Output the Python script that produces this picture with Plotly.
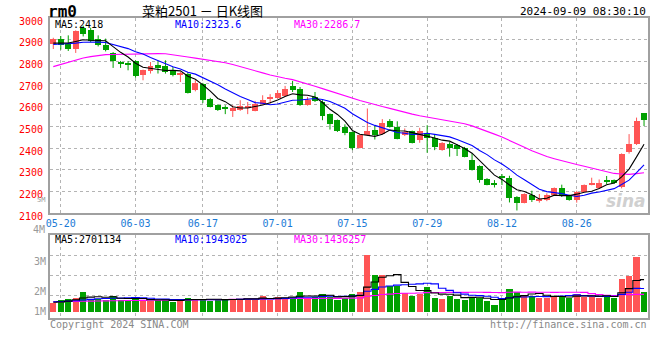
import plotly.graph_objects as go

# ---------------- data ----------------
dates = [
    "2024-05-17",
    "2024-05-20", "2024-05-21", "2024-05-22", "2024-05-23", "2024-05-24",
    "2024-05-27", "2024-05-28", "2024-05-29", "2024-05-30", "2024-05-31",
    "2024-06-03", "2024-06-04", "2024-06-05", "2024-06-06", "2024-06-07",
    "2024-06-11", "2024-06-12", "2024-06-13", "2024-06-14",
    "2024-06-17", "2024-06-18", "2024-06-19", "2024-06-20", "2024-06-21",
    "2024-06-24", "2024-06-25", "2024-06-26", "2024-06-27", "2024-06-28",
    "2024-07-01", "2024-07-02", "2024-07-03", "2024-07-04", "2024-07-05",
    "2024-07-08", "2024-07-09", "2024-07-10", "2024-07-11", "2024-07-12",
    "2024-07-15", "2024-07-16", "2024-07-17", "2024-07-18", "2024-07-19",
    "2024-07-22", "2024-07-23", "2024-07-24", "2024-07-25", "2024-07-26",
    "2024-07-29", "2024-07-30", "2024-07-31",
    "2024-08-01", "2024-08-02",
    "2024-08-05", "2024-08-06", "2024-08-07", "2024-08-08", "2024-08-09",
    "2024-08-12", "2024-08-13", "2024-08-14", "2024-08-15", "2024-08-16",
    "2024-08-19", "2024-08-20", "2024-08-21", "2024-08-22", "2024-08-23",
    "2024-08-26", "2024-08-27", "2024-08-28", "2024-08-29", "2024-08-30",
    "2024-09-02", "2024-09-03", "2024-09-04", "2024-09-05", "2024-09-06",
]

open_ = [2879, 2902, 2879, 2859, 2953, 2947, 2905, 2874, 2840, 2797,
         2793, 2802, 2739, 2756, 2782, 2777, 2759, 2736, 2744, 2667,
         2698, 2629, 2598, 2590, 2575, 2575, 2586, 2572, 2603, 2630,
         2633, 2639, 2685, 2675, 2598, 2636, 2612, 2557, 2529, 2498,
         2475, 2402, 2460, 2483, 2465, 2526, 2498, 2460, 2479, 2440,
         2468, 2445, 2391, 2419, 2413, 2403, 2345, 2318, 2259, 2238,
         2273, 2265, 2177, 2149, 2186, 2158, 2161, 2184, 2216, 2181,
         2161, 2200, 2232, 2216, 2253, 2253, 2223, 2384, 2419, 2560]
high = [2909, 2917, 2920, 2943, 2965, 2955, 2920, 2905, 2843, 2802,
        2802, 2805, 2762, 2797, 2802, 2805, 2774, 2751, 2751, 2713,
        2701, 2632, 2602, 2598, 2598, 2621, 2613, 2618, 2644, 2649,
        2667, 2687, 2710, 2682, 2636, 2659, 2621, 2560, 2532, 2510,
        2477, 2463, 2583, 2502, 2534, 2534, 2524, 2491, 2481, 2494,
        2506, 2465, 2428, 2428, 2419, 2406, 2376, 2321, 2262, 2253,
        2281, 2273, 2179, 2192, 2204, 2189, 2192, 2219, 2232, 2186,
        2204, 2233, 2264, 2256, 2272, 2256, 2376, 2465, 2541, 2562]
low = [2857, 2854, 2848, 2839, 2915, 2889, 2869, 2846, 2770, 2770,
       2759, 2725, 2713, 2744, 2744, 2744, 2731, 2705, 2652, 2662,
       2609, 2588, 2572, 2557, 2544, 2572, 2557, 2570, 2600, 2606,
       2629, 2637, 2659, 2595, 2596, 2613, 2529, 2486, 2475, 2460,
       2391, 2399, 2458, 2440, 2463, 2495, 2441, 2456, 2422, 2425,
       2379, 2391, 2388, 2361, 2364, 2358, 2297, 2241, 2229, 2219,
       2230, 2150, 2113, 2146, 2152, 2149, 2156, 2181, 2175, 2158,
       2149, 2198, 2229, 2212, 2235, 2235, 2215, 2375, 2415, 2502]
close = [2902, 2877, 2859, 2940, 2927, 2894, 2874, 2851, 2802, 2790,
         2785, 2731, 2759, 2777, 2771, 2751, 2736, 2747, 2655, 2701,
         2621, 2590, 2578, 2583, 2583, 2593, 2590, 2606, 2624, 2633,
         2655, 2675, 2667, 2598, 2624, 2616, 2547, 2511, 2480, 2468,
         2403, 2460, 2479, 2463, 2518, 2498, 2443, 2475, 2425, 2479,
         2449, 2407, 2425, 2403, 2397, 2361, 2299, 2253, 2232, 2235,
         2262, 2169, 2146, 2189, 2161, 2166, 2186, 2216, 2178, 2161,
         2200, 2230, 2241, 2241, 2246, 2238, 2373, 2419, 2524, 2532]

ma5 = [2884, 2884, 2885, 2892, 2899.6, 2897.6, 2897, 2895.4, 2867.8, 2841.8,
       2820.4, 2791.8, 2773.4, 2768.4, 2764.6, 2757.8, 2758.8, 2756.4, 2732, 2718,
       2692, 2662.8, 2629, 2614.6, 2591, 2585.4, 2585.4, 2591, 2599.2, 2609.2,
       2621.6, 2638.6, 2650.8, 2645.6, 2643.8, 2636, 2610.4, 2579.2, 2555.6, 2524.4,
       2481.8, 2464.4, 2458, 2454.6, 2464.6, 2483.6, 2480.2, 2479.4, 2471.8, 2464,
       2454.2, 2447, 2437, 2432.6, 2416.2, 2398.6, 2377, 2342.6, 2308.4, 2276,
       2256.2, 2230.2, 2208.8, 2200.2, 2185.4, 2166.2, 2169.6, 2183.6, 2181.4, 2181.4,
       2188.2, 2197, 2202, 2214.6, 2231.6, 2239.2, 2267.8, 2303.4, 2360, 2418]
ma10 = [2878, 2879, 2880, 2884, 2888, 2889, 2889, 2887, 2878, 2870.7,
        2859, 2844.4, 2834.4, 2818.1, 2803.2, 2789.1, 2775.3, 2764.9, 2750.2, 2741.3,
        2724.9, 2710.8, 2692.7, 2673.3, 2654.5, 2638.7, 2624.1, 2610, 2606.9, 2600.1,
        2603.5, 2612, 2620.9, 2622.4, 2626.5, 2628.8, 2624.5, 2615, 2600.6, 2584.1,
        2558.9, 2537.4, 2518.6, 2505.1, 2494.5, 2482.7, 2472.3, 2468.7, 2463.2, 2464.3,
        2468.9, 2463.6, 2458.2, 2452.2, 2440.1, 2426.4, 2412, 2389.8, 2370.5, 2346.1,
        2327.4, 2303.6, 2275.7, 2254.3, 2230.7, 2211.2, 2199.9, 2196.2, 2190.8, 2183.4,
        2177.2, 2183.3, 2192.8, 2198, 2206.5, 2213.7, 2232.4, 2252.7, 2287.3, 2323.6]
ma30 = [2776, 2786, 2797, 2808, 2816, 2822, 2828, 2831, 2832, 2833,
        2833, 2833, 2834, 2836, 2836, 2835, 2831, 2826, 2820, 2815,
        2810, 2805, 2799, 2794, 2786, 2777, 2767, 2757, 2747, 2737.4,
        2729.1, 2722.4, 2716, 2704.6, 2694.7, 2685.5, 2674.6, 2663.3, 2652.6, 2641.8,
        2629.1, 2620.1, 2610.7, 2600.3, 2591.8, 2583.4, 2573.6, 2564.6, 2556.9, 2549.5,
        2543.8, 2537.7, 2532.6, 2526.6, 2520.4, 2512.6, 2502.9, 2491.2, 2478.1, 2464.8,
        2451.7, 2434.9, 2417.5, 2403.9, 2388.4, 2373.4, 2361.4, 2351.6, 2341.5, 2331.3,
        2324.5, 2316.8, 2308.9, 2301.5, 2292.4, 2283.8, 2281.4, 2279.6, 2282.9, 2286.7]

volume = [720000, 950000, 1120000, 1180000, 1640000, 1090000, 1090000, 950000, 1350000, 1010000,
          1010000, 1060000, 950000, 890000, 950000, 1010000, 780000, 950000, 1180000, 1030000,
          1010000, 890000, 950000, 1010000, 1120000, 1120000, 1010000, 950000, 1350000, 950000,
          1290000, 1180000, 1290000, 1640000, 1090000, 1290000, 1470000, 1290000, 950000, 1180000,
          1530000, 1720000, 4910000, 3190000, 3190000, 2160000, 2220000, 1580000, 1380000, 1530000,
          2070000, 1180000, 1120000, 1350000, 1120000, 1010000, 1290000, 1180000, 890000, 600000,
          1010000, 1900000, 1720000, 1380000, 1350000, 1180000, 1180000, 1230000, 1290000, 1180000,
          1530000, 1230000, 1290000, 1180000, 1350000, 1180000, 2840000, 3100000, 4660000, 1720000]
vma5 = [750000, 780000, 850000, 970000, 1122000, 1196000, 1224000, 1190000, 1224000, 1098000,
        1082000, 1076000, 1076000, 984000, 972000, 972000, 916000, 916000, 974000, 990000,
        990000, 1012000, 1012000, 978000, 996000, 1018000, 1042000, 1042000, 1110000, 1076000,
        1110000, 1144000, 1212000, 1270000, 1298000, 1298000, 1356000, 1356000, 1218000, 1236000,
        1284000, 1334000, 2058000, 2506000, 2908000, 3034000, 3134000, 2468000, 2106000, 1774000,
        1756000, 1548000, 1456000, 1450000, 1368000, 1156000, 1178000, 1190000, 1098000, 994000,
        994000, 1116000, 1224000, 1322000, 1472000, 1506000, 1362000, 1264000, 1246000, 1212000,
        1282000, 1292000, 1304000, 1282000, 1316000, 1246000, 1568000, 1930000, 2626000, 2701134]
vma10 = [800000, 820000, 850000, 880000, 950000, 1000000, 1050000, 1080000, 1100000, 1110000,
         1139000, 1150000, 1133000, 1104000, 1035000, 1027000, 996000, 996000, 979000, 981000,
         981000, 964000, 964000, 976000, 993000, 1004000, 1027000, 1027000, 1044000, 1036000,
         1064000, 1093000, 1127000, 1190000, 1187000, 1204000, 1250000, 1284000, 1244000, 1267000,
         1291000, 1345000, 1707000, 1862000, 2072000, 2159000, 2234000, 2263000, 2306000, 2341000,
         2395000, 2341000, 1962000, 1778000, 1571000, 1456000, 1363000, 1323000, 1274000, 1181000,
         1075000, 1147000, 1207000, 1210000, 1233000, 1250000, 1239000, 1244000, 1284000, 1342000,
         1394000, 1327000, 1284000, 1264000, 1264000, 1264000, 1430000, 1617000, 1954000, 1943025]
vma30 = [800000, 810000, 820000, 830000, 840000, 850000, 860000, 870000, 880000, 890000,
         900000, 910000, 920000, 930000, 940000, 940000, 950000, 950000, 960000, 960000,
         970000, 980000, 980000, 990000, 1000000, 1010000, 1020000, 1030000, 1040000, 1042000,
         1061000, 1069000, 1075000, 1090000, 1072000, 1078000, 1091000, 1102000, 1089000, 1095000,
         1112000, 1134000, 1266000, 1343000, 1417000, 1456000, 1504000, 1525000, 1531000, 1548000,
         1583000, 1593000, 1599000, 1610000, 1610000, 1606000, 1616000, 1623000, 1608000, 1596000,
         1587000, 1611000, 1625000, 1617000, 1625000, 1622000, 1612000, 1610000, 1621000, 1621000,
         1621000, 1605000, 1500000, 1420000, 1360000, 1330000, 1400000, 1410000, 1430000, 1436257]

tick_dates = ["2024-05-20", "2024-06-03", "2024-06-17", "2024-07-01",
              "2024-07-15", "2024-07-29", "2024-08-12", "2024-08-26"]
tick_labels = ["05-20", "06-03", "06-17", "07-01", "07-15", "07-29", "08-12", "08-26"]
price_ticks = [2100, 2200, 2300, 2400, 2500, 2600, 2700, 2800, 2900, 3000]
vol_label_text = ["3M", "2M", "1M"]

for arr in (open_, high, low, close, ma5, ma10, ma30, volume, vma5, vma10, vma30):
    assert len(arr) == len(dates), len(arr)

# ---------------- styling ----------------
RED = "#ff5555"
GREEN = "#00a000"
FRAME = "#a0a0a0"
GRID = "#b4b4b4"
MONO = "DejaVu Sans Mono"

W, H = 660, 360
ML, MR, MT, MB = 50, 10, 18, 42
PW, PH = W - ML - MR, H - MT - MB


def px(xp):
    return (xp - ML) / PW


def py(yp):
    return (H - MB - yp) / PH


up = [c >= o for o, c in zip(open_, close)]
colors = [RED if u else GREEN for u in up]
body_base = [min(o, c) for o, c in zip(open_, close)]
body_h = [max(abs(c - o), 5) for o, c in zip(open_, close)]

fig = go.Figure()

# bodies first (fixes category order along the dates)
fig.add_trace(go.Bar(x=dates, y=body_h, base=body_base, width=0.8,
                     marker=dict(color=colors, line=dict(width=0)),
                     showlegend=False, xaxis="x", yaxis="y"))

# wicks
for flag, col in ((True, RED), (False, GREEN)):
    wx, wy = [], []
    for d, h, l, u in zip(dates, high, low, up):
        if u == flag:
            wx += [d, d, None]
            wy += [l, h, None]
    fig.add_trace(go.Scatter(x=wx, y=wy, mode="lines", line=dict(color=col, width=1),
                             hoverinfo="skip", showlegend=False, xaxis="x", yaxis="y"))

# moving averages (price)
for arr, col in ((ma30, "#ff00ff"), (ma10, "#0000ff"), (ma5, "#000000")):
    fig.add_trace(go.Scatter(x=dates, y=arr, mode="lines", line=dict(color=col, width=1.1),
                             showlegend=False, xaxis="x", yaxis="y"))

# volume
fig.add_trace(go.Bar(x=dates, y=volume, width=0.82, marker=dict(color=colors, line=dict(width=0)),
                     showlegend=False, xaxis="x2", yaxis="y2"))
for arr, col in ((vma30, "#ff00ff"), (vma10, "#0000ff"), (vma5, "#000000")):
    fig.add_trace(go.Scatter(x=dates, y=arr, mode="lines", line=dict(color=col, width=1.1, shape="hvh"),
                             showlegend=False, xaxis="x2", yaxis="y2"))

# invisible point to activate the volume label axis
fig.add_trace(go.Scatter(x=[dates[0]], y=[0], mode="markers", marker=dict(opacity=0),
                         hoverinfo="skip", showlegend=False, xaxis="x2", yaxis="y3"))

xr = [-0.44, 79.53]
vr = [-603000, 6595000]

axis_common = dict(showline=True, mirror=True, linecolor=FRAME, linewidth=2,
                   zeroline=False, ticks="", gridcolor=GRID, griddash="dot", gridwidth=1)

fig.update_layout(
    width=W, height=H,
    margin=dict(l=ML, r=MR, t=MT, b=MB, pad=0),
    paper_bgcolor="white", plot_bgcolor="white",
    barmode="overlay", bargap=0,
    showlegend=False,
    font=dict(family=MONO, size=10, color="#000"),
    xaxis=dict(axis_common, domain=[0, 1], anchor="y", type="category",
               categoryorder="array", categoryarray=dates, range=xr,
               tickmode="array", tickvals=tick_dates, ticktext=tick_labels, showgrid=True,
               tickfont=dict(family=MONO, size=10, color="#1a7ad6")),
    yaxis=dict(axis_common, domain=[py(213.3), 1.0], anchor="x", range=[2100, 3000],
               tickmode="array", tickvals=price_ticks, showgrid=True,
               ticklabelshift=3, ticklabelstandoff=3,
               tickfont=dict(family=MONO, size=10, color="#ff0000")),
    xaxis2=dict(axis_common, domain=[0, 1], anchor="y2", type="category",
                categoryorder="array", categoryarray=dates, range=xr, matches="x",
                tickmode="array", tickvals=tick_dates, showticklabels=False, showgrid=True),
    yaxis2=dict(axis_common, domain=[0, py(234.5)], anchor="x2", range=vr,
                tickmode="array", tickvals=[(311 - 255.3) / 11.6 * 1e6, (311 - 275.3) / 11.6 * 1e6,
                                            (311 - 295.3) / 11.6 * 1e6],
                showticklabels=False, showgrid=True),
    yaxis3=dict(overlaying="y2", anchor="x2", side="left", range=vr, showgrid=False, zeroline=False,
                showline=False, ticks="", tickmode="array",
                tickvals=[(311 - 261) / 11.6 * 1e6, (311 - 291) / 11.6 * 1e6, 0],
                ticktext=vol_label_text, ticklabelstandoff=3,
                tickfont=dict(family=MONO, size=10, color="#999999")),
)

ann = []


def add_text(text, xp, yp, anchor="left", color="#000", size=10, family=MONO):
    ann.append(dict(text=text, x=px(xp), y=py(yp), xref="paper", yref="paper",
                    xanchor=anchor, yanchor="middle", showarrow=False,
                    font=dict(family=family, size=size, color=color), borderpad=0))


add_text("<b>rm0</b>", 47, 12, size=16)
add_text("菜粕2501 － 日K线图", 203, 11, anchor="center", size=13,
         family="Noto Sans CJK SC")
add_text("2024-09-09 08:30:10", 649, 12, anchor="right", size=11)
add_text("MA5:2418", 54, 25, color="#000000")
add_text("MA10:2323.6", 174, 25, color="#0000ff")
add_text("MA30:2286.7", 294, 25, color="#ff00ff")
add_text("MA5:2701134", 54, 239, color="#000000")
add_text("MA10:1943025", 174, 239, color="#0000ff")
add_text("MA30:1436257", 294, 239, color="#ff00ff")
add_text("5M", 46, 199.5, anchor="right", color="#999999", size=7)
add_text("4M", 46, 229.5, anchor="right", color="#999999")
add_text("Copyright 2024 SINA.COM", 49, 324, color="#888888", size=10)
add_text("http://finance.sina.com.cn", 650, 324, anchor="right", color="#888888", size=10)
add_text("<b><i>sina</i></b>", 628, 201, anchor="center", color="#d0d0d0", size=17,
         family="DejaVu Sans")

fig.update_layout(annotations=ann)

fig.write_html("out.html", config={"displayModeBar": False},
               post_script="document.body.style.margin='0px';document.body.style.overflow='hidden';")
